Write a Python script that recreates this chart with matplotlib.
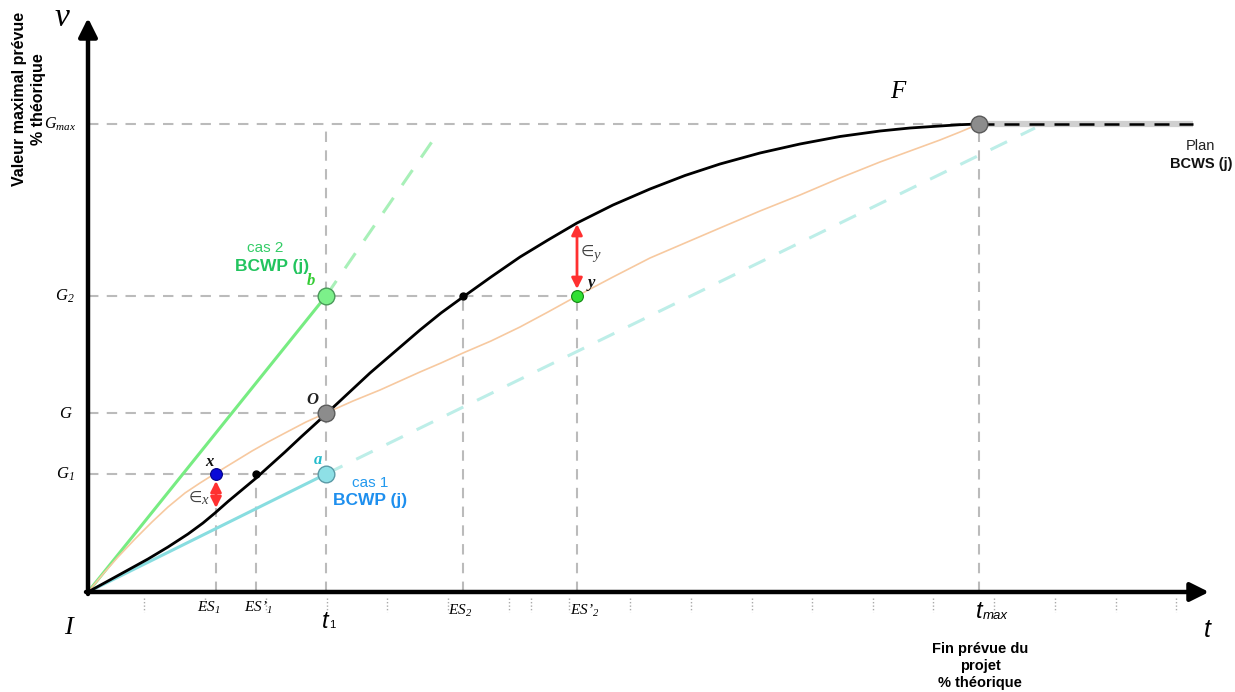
import matplotlib
matplotlib.use("Agg")
import matplotlib.pyplot as plt

plt.rcParams['mathtext.fontset'] = 'custom'
plt.rcParams['mathtext.it'] = 'Liberation Serif:italic'
plt.rcParams['mathtext.rm'] = 'Liberation Serif:italic'
plt.rcParams['font.family'] = ['Liberation Sans', 'DejaVu Sans']

# ==================================
# Diagram values (time units, value units)
# ==================================
# Plan curve BCWS (j), from I to F
plan_t = [0, 10, 20, 30, 40, 50, 60, 70, 80, 90, 100, 115, 127, 140, 155, 167, 182,
          197, 213, 230, 238, 260, 282, 307, 332, 353, 375, 403, 432, 460, 489, 525,
          562, 597, 632, 672, 712, 752, 792, 822, 852, 872, 891]
plan_v = [0, 5.5, 11, 16.5, 22, 27.5, 33, 39, 45, 51.5, 58, 69, 79, 90.5, 103, 113,
          126.5, 140, 155, 170.5, 178, 198.5, 219, 240.5, 262, 279, 295, 315, 335,
          352, 369, 387, 403, 416.5, 428, 439, 448, 455.5, 461, 464, 466, 467.3, 468]

# Actual progress curve (orange)
real_t = [0, 15, 30, 47, 64, 80, 97, 112, 128, 146, 164, 180, 197, 218, 238, 265,
          292, 312, 332, 353, 375, 403, 432, 460, 489, 525, 562, 597, 632, 672, 712,
          752, 792, 822, 852, 872, 891]
real_v = [0, 18, 35, 53, 70, 85, 99, 109, 119, 130, 141, 150, 159, 170, 179, 191,
          202, 211, 220, 229, 239, 251, 265, 280, 296, 315, 334, 349, 364, 381, 397,
          414, 430, 441, 452, 460, 468]

# levels on the value axis
G_max, G2, G, G1 = 468, 296, 179, 118
# instants on the time axis
t1, t_max = 238, 891
ES1, ES1p, ES2, ES2p = 128, 168, 375, 489

# BCWP lines: cas 2 (green) and cas 1 (cyan), with their dashed extension
cas2_t, cas2_v = [0, t1], [0, G2]
cas2_ext_t, cas2_ext_v = [t1, 352], [G2, 462]
cas1_t, cas1_v = [0, t1], [0, G1]
cas1_ext_t, cas1_ext_v = [t1, 947], [G1, 464]

# plan continues flat after t_max
plan_end = 1105
# minor ticks under the time axis
minor_ticks = [56, 117, 178, 239, 299, 360, 421, 443, 481, 542, 603, 664, 724,
               785, 845, 906, 967, 1028, 1088]

# error arrows (epsilon_x and epsilon_y)
eps_x = (ES1, 84, 111)
eps_y = (ES2p, 368, 303)

grey_dash = dict(color='#bbbbbb', lw=1.5, dashes=(5, 4), zorder=1)

fig = plt.figure(figsize=(12.35, 6.92), dpi=100)
ax = fig.add_axes([0, 0, 1, 1])
ax.set_xlim(-88, 1147)
ax.set_ylim(-100, 592)
ax.axis('off')

# Dashed guide lines
ax.plot([0, t_max], [G_max, G_max], **grey_dash)
ax.plot([0, ES2p], [G2, G2], **grey_dash)
ax.plot([0, t1], [G, G], **grey_dash)
ax.plot([0, t1], [G1, G1], **grey_dash)
ax.plot([t1, t1], [0, G_max], **grey_dash)
ax.plot([t_max, t_max], [0, G_max], **grey_dash)
ax.plot([ES1, ES1], [0, 84], **grey_dash)
ax.plot([ES1p, ES1p], [0, G1], **grey_dash)
ax.plot([ES2, ES2], [0, G2], **grey_dash)
ax.plot([ES2p, ES2p], [0, G2], **grey_dash)

# minor ticks
for x in minor_ticks:
    ax.plot([x, x], [-6, -20], color='#aaaaaa', lw=1, ls=(0, (1, 1.5)), zorder=1)

# BCWP lines
ax.plot(cas2_ext_t, cas2_ext_v, color='#a8f0b8', lw=2.2, dashes=(6, 5), zorder=2)
ax.plot(cas1_ext_t, cas1_ext_v, color='#bdeee8', lw=2.2, dashes=(6, 5), zorder=2)
ax.plot(cas2_t, cas2_v, color='#77ec82', lw=2.2, zorder=3)
ax.plot(cas1_t, cas1_v, color='#88dde0', lw=2.2, zorder=3)

# actual progress
ax.plot(real_t, real_v, color='#f7c9a0', lw=1.2, zorder=3)

# plan curve
ax.plot([t_max, plan_end], [G_max, G_max], color='#d0d0d0', lw=4.5, zorder=3,
        solid_capstyle='butt')
ax.plot([t_max, plan_end], [G_max, G_max], color='black', lw=1.8, dashes=(6, 4), zorder=4)
ax.plot(plan_t, plan_v, color='black', lw=2, zorder=4)

# axes with arrows
ax.annotate('', xy=(0, 574), xytext=(0, -2),
            arrowprops=dict(arrowstyle='-|>', lw=3.2, color='black', mutation_scale=28,
                            shrinkA=0, shrinkB=0), zorder=6)
ax.annotate('', xy=(1121, 0), xytext=(-2, 0),
            arrowprops=dict(arrowstyle='-|>', lw=3.2, color='black', mutation_scale=28,
                            shrinkA=0, shrinkB=0), zorder=6)

# error arrows
for x, y0, y1 in [eps_x, eps_y]:
    ax.annotate('', xy=(x, y1), xytext=(x, y0),
                arrowprops=dict(arrowstyle='<|-|>', lw=2, color='#ff3030',
                                mutation_scale=16, shrinkA=0, shrinkB=0), zorder=5)

# points
ax.plot([t1], [G], 'o', ms=12, color='#8c8c8c', mec='#5a5a5a', mew=1, zorder=7)
ax.plot([t_max], [G_max], 'o', ms=12, color='#8c8c8c', mec='#5a5a5a', mew=1, zorder=7)
ax.plot([t1], [G2], 'o', ms=12, color='#7cf08a', mec='#4a9a5a', mew=1, zorder=7)
ax.plot([t1], [G1], 'o', ms=12, color='#8ee0e6', mec='#5a9aa6', mew=1, zorder=7)
ax.plot([ES1], [G1], 'o', ms=8.5, color='#0a0ad8', mec='#000088', mew=0.8, zorder=7)
ax.plot([ES2p], [G2], 'o', ms=8.5, color='#33e033', mec='#118811', mew=0.8, zorder=7)
ax.plot([ES1p, ES2], [G1, G2], 'o', ms=5, color='black', zorder=7)

# axis names
ax.text(-26, 574, 'v', fontsize=24, family='Liberation Serif', style='italic',
        ha='center', va='center')
ax.text(-59, 493, 'Valeur maximal prévue\n% théorique', fontsize=11.5, weight='bold',
        rotation=90, ha='center', va='center', linespacing=1.25)
ax.text(-20, -36, 'I', fontsize=19, family='Liberation Serif', style='italic',
        ha='center', va='center')
ax.text(1119, -38, 't', fontsize=18, style='italic', ha='center', va='center')
ax.text(810, 500, 'F', fontsize=18, family='Liberation Serif', style='italic',
        ha='center', va='center')

# value-axis labels
ax.text(-12, G_max, r'$G_{max}$', fontsize=11.5, ha='right', va='center')
ax.text(-13, G2, r'$G_2$', fontsize=12, ha='right', va='center')
ax.text(-15, G, r'$G$', fontsize=12, ha='right', va='center')
ax.text(-13, G1, r'$G_1$', fontsize=12, ha='right', va='center')

# time-axis labels
ax.text(ES1 - 7, -16, r'$ES_1$', fontsize=11, ha='center', va='center')
ax.text(ES1p + 2, -16, '$ES\u2019_1$', fontsize=11, ha='center', va='center')
ax.text(ES2 - 3, -19, r'$ES_2$', fontsize=11, ha='center', va='center')
ax.text(ES2p + 8, -19, '$ES\u2019_2$', fontsize=11, ha='center', va='center')
ax.text(t1 + 3, -29, 't', fontsize=17, style='italic', ha='right', va='center')
ax.text(t1 + 3, -33, '1', fontsize=8, ha='left', va='center')
ax.text(t_max + 4, -20, 't', fontsize=17, style='italic', ha='right', va='center')
ax.text(t_max + 4, -24, 'max', fontsize=9.5, style='italic', ha='left', va='center')
ax.text(t_max + 1, -74, 'Fin prévue du\nprojet\n% théorique', fontsize=10.5,
        weight='bold', ha='center', va='center', linespacing=1.3)

# curve labels
ax.text(1112, 446, 'Plan', fontsize=10.5, color='#222222', ha='center', va='center')
ax.text(1145, 428, 'BCWS (j)', fontsize=10.5, weight='bold', color='#111111',
        ha='right', va='center')
ax.text(177, 344, 'cas 2', fontsize=11, color='#33cc66', ha='center', va='center')
ax.text(184, 326, 'BCWP (j)', fontsize=12.5, weight='bold', color='#22c45e',
        ha='center', va='center')
ax.text(282, 109, 'cas 1', fontsize=11, color='#2299ee', ha='center', va='center')
ax.text(282, 92, 'BCWP (j)', fontsize=12.5, weight='bold', color='#1e8fee',
        ha='center', va='center')

# point labels
pt = dict(family='Liberation Serif', style='italic', weight='bold', fontsize=12,
          ha='center', va='center')
ax.text(t1 - 15, G2 + 15, 'b', color='#33cc33', **pt)
ax.text(t1 - 8, G1 + 14, 'a', color='#22bbcc', **pt)
ax.text(t1 - 14, G + 13, 'O', color='#222222', **pt)
ax.text(ES1 - 7, G1 + 12, 'x', color='#111111', **pt)
ax.text(ES2p + 14, G2 + 13, 'y', color='#111111', **pt)

# epsilon labels
eps = dict(fontsize=11, color='#444444', family='DejaVu Sans', ha='center', va='center')
sub = dict(fontsize=10.5, color='#444444', family='Liberation Serif', style='italic',
           ha='center', va='center')
ax.text(ES1 - 21, 95, '\u2208', **eps)
ax.text(ES1 - 12, 91, 'x', **sub)
ax.text(ES2p + 10, 341, '\u2208', **eps)
ax.text(ES2p + 19, 337, 'y', **sub)

fig.savefig('out.png', dpi=100)
